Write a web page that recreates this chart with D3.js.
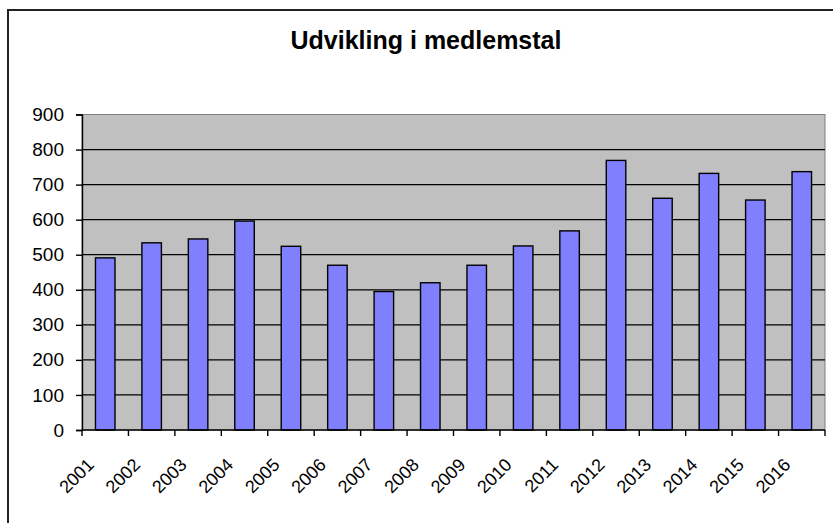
<!DOCTYPE html>
<html>
<head>
<meta charset="utf-8">
<script src="https://cdn.jsdelivr.net/npm/d3@7"></script>
<style>
  html, body { margin: 0; padding: 0; background: #fff; }
  svg { display: block; }
</style>
</head>
<body>
<svg id="chart" width="833" height="523"></svg>
<script>
const title = "Udvikling i medlemstal";
const years = ["2001","2002","2003","2004","2005","2006","2007","2008","2009","2010","2011","2012","2013","2014","2015","2016"];
const members = [491, 534, 545, 596, 524, 470, 395, 420, 470, 525, 568, 769, 661, 732, 656, 737];
const yTicks = [0, 100, 200, 300, 400, 500, 600, 700, 800, 900];

const svg = d3.select("#chart");
const font = "'Liberation Sans', Arial, sans-serif";

// outer chart border
svg.append("rect")
  .attr("x", 8).attr("y", 10)
  .attr("width", 840).attr("height", 540)
  .attr("fill", "#fff")
  .attr("stroke", "#222").attr("stroke-width", 2);

const plot = { left: 82, right: 825, top: 114.5, bottom: 430 };

const x = d3.scaleBand().domain(years).range([plot.left, plot.right]).padding(0);
const y = d3.scaleLinear().domain([0, 900]).range([plot.bottom, plot.top]);

// plot background
svg.append("rect")
  .attr("x", plot.left).attr("y", plot.top)
  .attr("width", plot.right - plot.left).attr("height", plot.bottom - plot.top)
  .attr("fill", "#c0c0c0")
  .attr("stroke", "#808080").attr("stroke-width", 1);

// gridlines
svg.append("g")
  .selectAll("line")
  .data(yTicks.filter(d => d > 0 && d < 900))
  .join("line")
  .attr("x1", plot.left).attr("x2", plot.right)
  .attr("y1", d => y(d)).attr("y2", d => y(d))
  .attr("stroke", "#000").attr("stroke-width", 1.2);

// bars
const barW = x.bandwidth() * 0.42;
svg.append("g")
  .selectAll("rect")
  .data(years.map((yr, i) => ({ yr, v: members[i] })))
  .join("rect")
  .attr("x", d => x(d.yr) + x.bandwidth() / 2 - barW / 2)
  .attr("y", d => y(d.v))
  .attr("width", barW)
  .attr("height", d => y(0) - y(d.v))
  .attr("fill", "#8080ff")
  .attr("stroke", "#000").attr("stroke-width", 1.4);

// y axis
const yAxis = d3.axisLeft(y).tickValues(yTicks).tickSize(6).tickPadding(12).tickFormat(d3.format("d"));
const gy = svg.append("g").attr("transform", `translate(${plot.left},0)`).call(yAxis);
gy.select(".domain").attr("stroke", "#000").attr("stroke-width", 1.4);
gy.selectAll(".tick line").attr("stroke", "#000").attr("stroke-width", 1.4);
gy.selectAll(".tick text")
  .attr("font-family", font).attr("font-size", 19).attr("fill", "#000");

// x axis: ticks at band boundaries
const boundaries = years.map(yr => x(yr)).concat([plot.right]);
svg.append("line")
  .attr("x1", plot.left).attr("x2", plot.right)
  .attr("y1", plot.bottom).attr("y2", plot.bottom)
  .attr("stroke", "#000").attr("stroke-width", 1.4);
svg.append("g")
  .selectAll("line")
  .data(boundaries)
  .join("line")
  .attr("x1", d => d).attr("x2", d => d)
  .attr("y1", plot.bottom).attr("y2", plot.bottom + 6)
  .attr("stroke", "#000").attr("stroke-width", 1.4);

svg.append("g")
  .selectAll("text")
  .data(years)
  .join("text")
  .attr("transform", d => `translate(${x(d) + 13},${plot.bottom + 36}) rotate(-45)`)
  .attr("text-anchor", "end")
  .attr("font-family", font).attr("font-size", 18).attr("fill", "#000")
  .text(d => d);

// title
svg.append("text")
  .attr("x", 426).attr("y", 49)
  .attr("text-anchor", "middle")
  .attr("font-family", font).attr("font-size", 25).attr("font-weight", "bold")
  .attr("fill", "#000")
  .text(title);
</script>
</body>
</html>
